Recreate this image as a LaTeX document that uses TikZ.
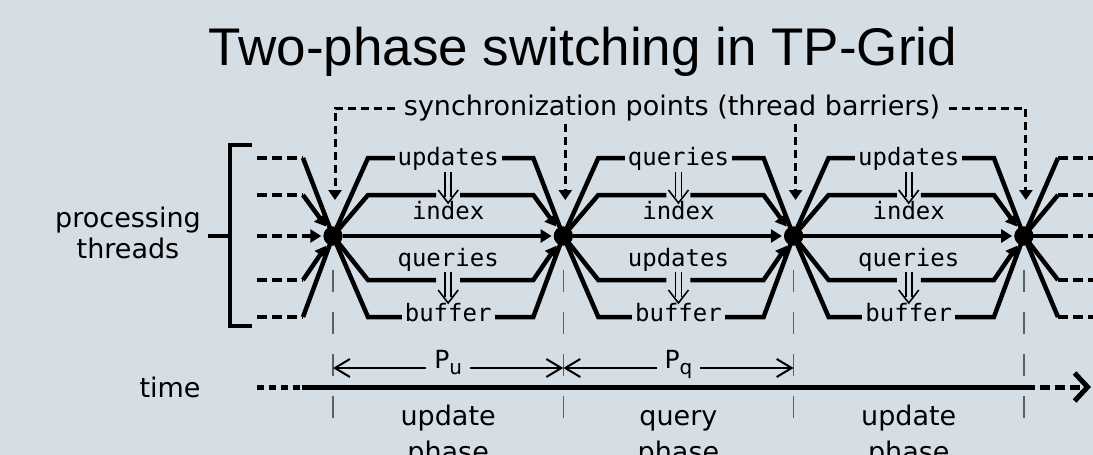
\documentclass[tikz,border=0pt]{standalone}
\usepackage{fontspec}
\setmainfont{DejaVu Sans}
\newfontfamily\titlefont{Liberation Sans}
\newfontfamily\lanefont{DejaVu Sans Mono}
\usetikzlibrary{arrows.meta}
\definecolor{bgc}{RGB}{214,222,229}
\definecolor{tickc}{RGB}{95,95,95}
\begin{document}
\begin{tikzpicture}[x=1pt,y=-1pt,
  lane/.style={line width=4.5pt, line join=miter},
  dlane/.style={lane, dash pattern=on 10pt off 5pt},
  tip/.style={-{Triangle[length=11pt,width=13pt]}, shorten >=2pt},
  dotn/.style={circle, fill=black, inner sep=0pt, minimum size=19pt},
  mono/.style={font=\lanefont\fontsize{24}{24}\selectfont, inner ysep=0pt, inner xsep=3pt},
  lbl/.style={font=\fontsize{27}{27}\selectfont, inner sep=0pt},
  syncline/.style={line width=3pt, dash pattern=on 8pt off 5pt, -{Triangle[length=10pt,width=13pt]}},
  dbl/.style={line width=1.6pt},
  tickline/.style={tickc, line width=1.5pt, dash pattern=on 22pt off 20pt},
  parrow/.style={line width=2pt, {Straight Barb[length=15pt,width=18pt]}-{Straight Barb[length=15pt,width=18pt]}},
  plbl/.style={font=\fontsize{25}{25}\selectfont, fill=bgc, inner xsep=8pt, inner ysep=2pt},
  axisline/.style={line width=5pt},
  bracketline/.style={line width=4.5pt, line join=miter}]
\useasboundingbox (0,0) rectangle (1093,455);
\fill[bgc] (0,0) rectangle (1093,455);

% title
\node[font=\titlefont\fontsize{53}{53}\selectfont, anchor=base, inner sep=0pt] (title) at (583,65) {Two-phase switching in TP-Grid};

% barrier dots (positions)
\foreach \k in {0,1,2,3}
  \coordinate (D\k c) at ({333+230.3*\k},236);

% lane end coordinates
\foreach \i/\y in {1/158,2/195,3/236,4/280,5/317}{
  \coordinate (L-\i) at (257,\y);
  \coordinate (M-\i) at (303,\y);
  \coordinate (R-\i) at (1058,\y);
  \coordinate (Q-\i) at (1093,\y);
}
\node[dotn] (D0) at (D0c) {};
\node[dotn] (D1) at (D1c) {};
\node[dotn] (D2) at (D2c) {};
\node[dotn] (D3) at (D3c) {};

% left dashed lanes
\draw[dlane] (L-1) -- (M-1); \draw[lane] (M-1) -- (D0.center);
\draw[dlane] (L-2) -- (M-2); \draw[lane,tip] (M-2) -- (D0);
\draw[dlane,tip] (L-3) -- (D0);
\draw[dlane] (L-4) -- (M-4); \draw[lane,tip] (M-4) -- (D0);
\draw[dlane] (L-5) -- (M-5); \draw[lane] (M-5) -- (D0.center);

% right dashed lanes
\foreach \i in {1,2,4,5}{
  \draw[lane] (D3.center) -- (R-\i);
  \draw[dlane] (R-\i) -- (Q-\i);
}
\draw[lane] (D3.center) -- (R-3);
\draw[dlane] (R-3) -- (Q-3);

% phases
\foreach \k/\tl/\ml [evaluate=\k as \a using {333+230.3*\k}, evaluate=\k as \n using {int(\k+1)}] in {0/updates/queries,1/queries/updates,2/updates/queries}{
  \pgfmathsetmacro\b{\a+230.3}
  \pgfmathsetmacro\c{\a+115.15}
  \foreach \i/\y in {1/158,2/195,4/280,5/317}{
    \coordinate (S\k-\i) at (\a+35,\y);
    \coordinate (E\k-\i) at (\b-30,\y);
  }
  \coordinate (G\k-2l) at (\c-12,195);
  \coordinate (G\k-2r) at (\c+12,195);
  \coordinate (G\k-4l) at (\c-12,280);
  \coordinate (G\k-4r) at (\c+12,280);
  \draw[lane] (D\k.center) -- (S\k-1) -- (E\k-1) -- (D\n.center);
  \draw[lane] (D\k.center) -- (S\k-5) -- (E\k-5) -- (D\n.center);
  \draw[lane] (D\k.center) -- (S\k-2) -- (G\k-2l);
  \draw[lane,tip] (G\k-2r) -- (E\k-2) -- (D\n);
  \draw[lane] (D\k.center) -- (S\k-4) -- (G\k-4l);
  \draw[lane,tip] (G\k-4r) -- (E\k-4) -- (D\n);
  \draw[lane,tip] (D\k) -- (D\n);
  % labels
  \node[mono, fill=bgc, anchor=base] (top\k) at (\c,165) {\tl};
  \node[mono, anchor=base] (idx\k) at (\c,219) {index};
  \node[mono, anchor=base] (mid\k) at (\c,266) {\ml};
  \node[mono, fill=bgc, anchor=base] (buf\k) at (\c,321) {buffer};
  % double arrows
  \coordinate (UA\k) at (\c,172); \coordinate (UB\k) at (\c,203);
  \coordinate (LA\k) at (\c,272); \coordinate (LB\k) at (\c,303);
  \foreach \p/\q in {UA/UB,LA/LB}{
    \draw[dbl] ([xshift=-3pt]\p\k) -- ([xshift=-3pt,yshift=6pt]\q\k);
    \draw[dbl] ([xshift=3pt]\p\k) -- ([xshift=3pt,yshift=6pt]\q\k);
    \draw[dbl] ([xshift=-10pt,yshift=13pt]\q\k) -- (\q\k) -- ([xshift=10pt,yshift=13pt]\q\k);
  }
}

% redraw dots on top
\foreach \k in {0,1,2,3}
  \fill (D\k c) circle (9.5pt);

% synchronization
\node[lbl, anchor=base, text height=20pt, text depth=6pt, inner sep=3pt] (sync) at (672,115) {synchronization points (thread barriers)};
\foreach \k in {0,1,2,3}
  \path (D\k.center) ++(2,-36) coordinate (T\k);
\draw[syncline] ([xshift=-6pt]sync.west) -| (T0);
\draw[syncline] (sync.south -| T1) -- (T1);
\draw[syncline] (sync.south -| T2) -- (T2);
\draw[syncline] ([xshift=6pt]sync.east) -| (T3);

% ticks
\foreach \k in {0,1,2,3}{
  \path (D\k.center) ++(0,34) coordinate (TA\k);
  \path (D\k.center) ++(0,182) coordinate (TB\k);
  \path (D\k.center) ++(0,132) coordinate (PA\k);
  \draw[tickline] (TA\k) -- (TB\k);
}

% period arrows
\draw[parrow] (PA0) -- node[plbl, pos=0.5, anchor=base] (pu) {P\raisebox{-6pt}{\fontsize{20}{20}\selectfont u}} (PA1);
\draw[parrow] (PA1) -- node[plbl, pos=0.5, anchor=base] (pq) {P\raisebox{-6pt}{\fontsize{20}{20}\selectfont q}} (PA2);

% processing threads label and bracket
\node[lbl, anchor=base] (procA) at (128,227) {processing};
\node[lbl, anchor=base] (procB) at (128,258) {threads};
\coordinate (BK) at (208,236);
\coordinate (BM) at (230,236);
\draw[bracketline] (BK) -- (BM);
\draw[bracketline] (252,145) -- (230,145) -- (230,326) -- (252,326);

% time axis
\node[lbl, anchor=base] (timel) at (170,397) {time};
\coordinate (XL) at (257,387);
\coordinate (XA) at (302,387);
\coordinate (XB) at (1025,387);
\coordinate (XR) at (1091,387);
\draw[axisline, dash pattern=on 7pt off 5pt] (XL) -- (XA);
\draw[axisline] (XA) -- (XB);
\draw[axisline, dash pattern=on 10pt off 5pt, -{Straight Barb[length=13pt,width=28pt]}] (XB) -- (XR);

% phase labels
\foreach \k/\t in {0/update,1/query,2/update}{
  \node[lbl, anchor=base] (ph\k a) at ({448.15+230.3*\k},425) {\t};
  \node[lbl, anchor=base] (ph\k b) at ({448.15+230.3*\k},461) {phase};
}
\end{tikzpicture}
\end{document}
